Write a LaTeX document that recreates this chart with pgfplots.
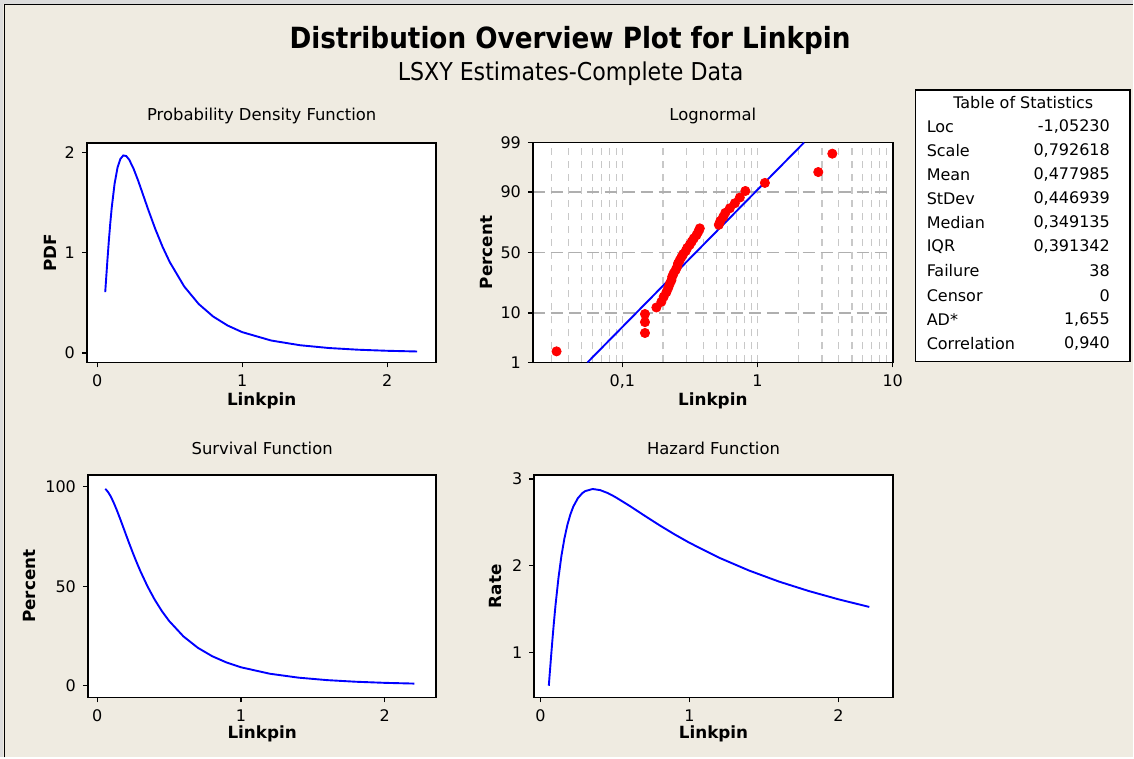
\documentclass[border=0pt]{standalone}
\usepackage{pgfplots}
\pgfplotsset{compat=1.18}
\usepackage{fontspec}
\setmainfont{DejaVu Sans}
\newfontfamily\titlefont{DejaVu Sans Condensed}

\definecolor{bg}{RGB}{239,235,225}
\definecolor{frame}{RGB}{220,220,220}
\definecolor{vgrid}{RGB}{200,200,200}
\definecolor{hgrid}{RGB}{175,175,175}

% lognormal fit, Loc=-1.0523, Scale=0.7926 -- values tabulated by hand
\pgfplotstableread{
x     pdf     surv    haz
0.0552 0.608  99.00  0.614
0.06  0.7109  98.69  0.720
0.07  0.9207  97.87  0.941
0.08  1.1177  96.85  1.154
0.09  1.2953  95.64  1.354
0.1   1.4504  94.27  1.539
0.12  1.6918  91.11  1.857
0.14  1.8497  87.55  2.113
0.16  1.9374  83.76  2.313
0.18  1.9717  79.84  2.470
0.2   1.9658  75.90  2.590
0.22  1.9307  71.99  2.682
0.25  1.8421  66.33  2.777
0.28  1.7292  60.97  2.836
0.3   1.6472  57.59  2.860
0.35  1.4381  49.87  2.884
0.4   1.2399  43.19  2.871
0.45  1.0626  37.44  2.838
0.5   0.9084  32.52  2.793
0.6   0.6642  24.72  2.687
0.7   0.4892  19.01  2.574
0.8   0.3640  14.77  2.464
0.9   0.2740  11.61  2.360
1.0   0.2085   9.21  2.263
1.2   0.1247   5.97  2.090
1.4   0.0775   3.99  1.943
1.6   0.0497   2.74  1.816
1.8   0.0329   1.93  1.707
2.0   0.0223   1.38  1.611
2.207 0.0152   1.00  1.523
}\fitted

% probability plot points: x, normal score of median rank
\pgfplotstableread{
x      z
0.0326 -2.092
0.147  -1.703
0.147  -1.473
0.147  -1.302
0.1786 -1.163
0.1945 -1.043
0.2023 -0.936
0.2118 -0.840
0.2184 -0.750
0.2241 -0.666
0.2307 -0.587
0.2339 -0.511
0.2399 -0.438
0.2483 -0.367
0.2547 -0.298
0.2582 -0.231
0.2658 -0.164
0.2737 -0.098
0.2822 -0.033
0.2944  0.033
0.3020  0.098
0.3152  0.164
0.3261  0.231
0.3375  0.298
0.3534  0.367
0.3645  0.438
0.3741  0.511
0.5172  0.587
0.5306  0.666
0.5566  0.750
0.5779  0.840
0.6237  0.936
0.6795  1.043
0.7399  1.163
0.8128  1.302
1.134   1.473
2.815   1.703
3.575   2.092
}\probpts

\pgfplotsset{
  panel/.style={
    scale only axis, anchor=south west,
    axis background/.style={fill=white},
    axis line style={line width=0.9pt},
    tick align=outside, major tick length=2.5pt,
    tick style={black, line width=0.6pt},
    xtick pos=left, ytick pos=left,
    ticklabel style={font=\fontsize{8}{9}\selectfont},
    label style={font=\bfseries\fontsize{8.4}{10}\selectfont},
    title style={font=\fontsize{8.2}{9}\selectfont, anchor=center},
  },
  curve/.style={blue, line width=0.95pt, no marks},
}

\begin{document}
\begin{tikzpicture}
\fill[bg] (0,0) rectangle (567pt,379pt);
\fill[frame] (0,377pt) rectangle (567pt,379pt);
\fill[frame] (0,0) rectangle (1.6pt,379pt);
\draw[black, line width=0.8pt] (2.2pt,0) -- (2.2pt,376.8pt) -- (567pt,376.8pt);

\node[font=\titlefont\bfseries\fontsize{14.6}{18}\selectfont] at (285.25pt,359pt) {Distribution Overview Plot for Linkpin};
\node[font=\titlefont\fontsize{12.3}{14}\selectfont] at (285.5pt,342pt) {LSXY Estimates-Complete Data};

% PDF
\begin{axis}[panel, at={(43.5pt,197.65pt)}, width=174.85pt, height=109.85pt,
  xmin=-0.071, xmax=2.34, ymin=-0.094, ymax=2.097,
  xtick={0,1,2}, xticklabels={0,1,2}, ytick={0,1,2}, yticklabels={0,1,2},
  title={Probability Density Function}, title style={at={(axis description cs:0.5,1.068)}},
  xlabel={Linkpin}, xlabel style={at={(axis description cs:0.5,-0.175)}, anchor=center},
  ylabel={PDF}, ylabel style={at={(axis description cs:-0.105,0.5)}, anchor=center}]
\addplot[curve] table[x=x, y=pdf] {\fitted};
\end{axis}

% Lognormal probability plot
\begin{axis}[panel, at={(266.65pt,197.65pt)}, width=180pt, height=110pt,
  xmode=log, xmin=0.0218, xmax=10, ymin=-2.3263, ymax=2.3263,
  xtick={0.1,1,10}, xticklabels={{0,1},1,10},
  minor xtick={0.03,0.04,0.05,0.06,0.07,0.08,0.09,0.2,0.3,0.4,0.5,0.6,0.7,0.8,0.9,2,3,4,5,6,7,8,9},
  minor tick length=0pt,
  ytick={-2.3263,-1.2816,0,1.2816,2.3263}, yticklabels={1,10,50,90,99},
  xmajorgrids, xminorgrids, ymajorgrids,
  major x grid style={vgrid, line width=0.6pt, dash pattern=on 3.5pt off 3pt},
  minor x grid style={vgrid, line width=0.6pt, dash pattern=on 3.5pt off 3pt},
  major y grid style={hgrid, line width=0.6pt, dash pattern=on 6pt off 3pt},
  title={Lognormal}, title style={at={(axis description cs:0.5,1.066)}},
  xlabel={Linkpin}, xlabel style={at={(axis description cs:0.5,-0.175)}, anchor=center},
  ylabel={Percent}, ylabel style={at={(axis description cs:-0.13,0.5)}, anchor=center}]
\addplot[only marks, mark=*, mark size=2.3pt, red, mark options={draw=red, fill=red}] table[x=x, y=z] {\probpts};
\addplot[curve] coordinates {(0.0552,-2.3263) (2.207,2.3263)};
\end{axis}

% Survival
\begin{axis}[panel, at={(44pt,30pt)}, width=174.35pt, height=111.35pt,
  xmin=-0.065, xmax=2.36, ymin=-6, ymax=106,
  xtick={0,1,2}, xticklabels={0,1,2}, ytick={0,50,100}, yticklabels={0,50,100},
  title={Survival Function}, title style={at={(axis description cs:0.5,1.064)}},
  xlabel={Linkpin}, xlabel style={at={(axis description cs:0.5,-0.165)}, anchor=center},
  ylabel={Percent}, ylabel style={at={(axis description cs:-0.168,0.5)}, anchor=center}]
\addplot[curve] table[x=x, y=surv] {\fitted};
\end{axis}

% Hazard
\begin{axis}[panel, at={(267.35pt,30pt)}, width=179.3pt, height=111.35pt,
  xmin=-0.042, xmax=2.364, ymin=0.478, ymax=3.046,
  xtick={0,1,2}, xticklabels={0,1,2}, ytick={1,2,3}, yticklabels={1,2,3},
  title={Hazard Function}, title style={at={(axis description cs:0.5,1.064)}},
  xlabel={Linkpin}, xlabel style={at={(axis description cs:0.5,-0.165)}, anchor=center},
  ylabel={Rate}, ylabel style={at={(axis description cs:-0.107,0.5)}, anchor=center}]
\addplot[curve] table[x=x, y=haz] {\fitted};
\end{axis}

% Table of Statistics
\draw[fill=white, line width=0.8pt] (458pt,198.15pt) rectangle (565.5pt,334pt);
\begin{scope}[every node/.style={font=\fontsize{8}{9}\selectfont, inner sep=0pt}]
\node at (512pt,327.5pt) {Table of Statistics};
\node[anchor=west] at (463.5pt,315.5pt) {Loc};         \node[anchor=east] at (555.5pt,315.5pt) {-1,05230};
\node[anchor=west] at (463.5pt,303.5pt) {Scale};       \node[anchor=east] at (555.5pt,303.5pt) {0,792618};
\node[anchor=west] at (463.5pt,291.5pt) {Mean};        \node[anchor=east] at (555.5pt,291.5pt) {0,477985};
\node[anchor=west] at (463.5pt,279.5pt) {StDev};       \node[anchor=east] at (555.5pt,279.5pt) {0,446939};
\node[anchor=west] at (463.5pt,267.5pt) {Median};      \node[anchor=east] at (555.5pt,267.5pt) {0,349135};
\node[anchor=west] at (463.5pt,255.5pt) {IQR};         \node[anchor=east] at (555.5pt,255.5pt) {0,391342};
\node[anchor=west] at (463.5pt,243.5pt) {Failure};     \node[anchor=east] at (555.5pt,243.5pt) {38};
\node[anchor=west] at (463.5pt,231pt) {Censor};        \node[anchor=east] at (555.5pt,231pt) {0};
\node[anchor=west] at (463.5pt,219pt) {AD*};           \node[anchor=east] at (555.5pt,219pt) {1,655};
\node[anchor=west] at (463.5pt,207pt) {Correlation};   \node[anchor=east] at (555.5pt,207pt) {0,940};
\end{scope}
\end{tikzpicture}
\end{document}
